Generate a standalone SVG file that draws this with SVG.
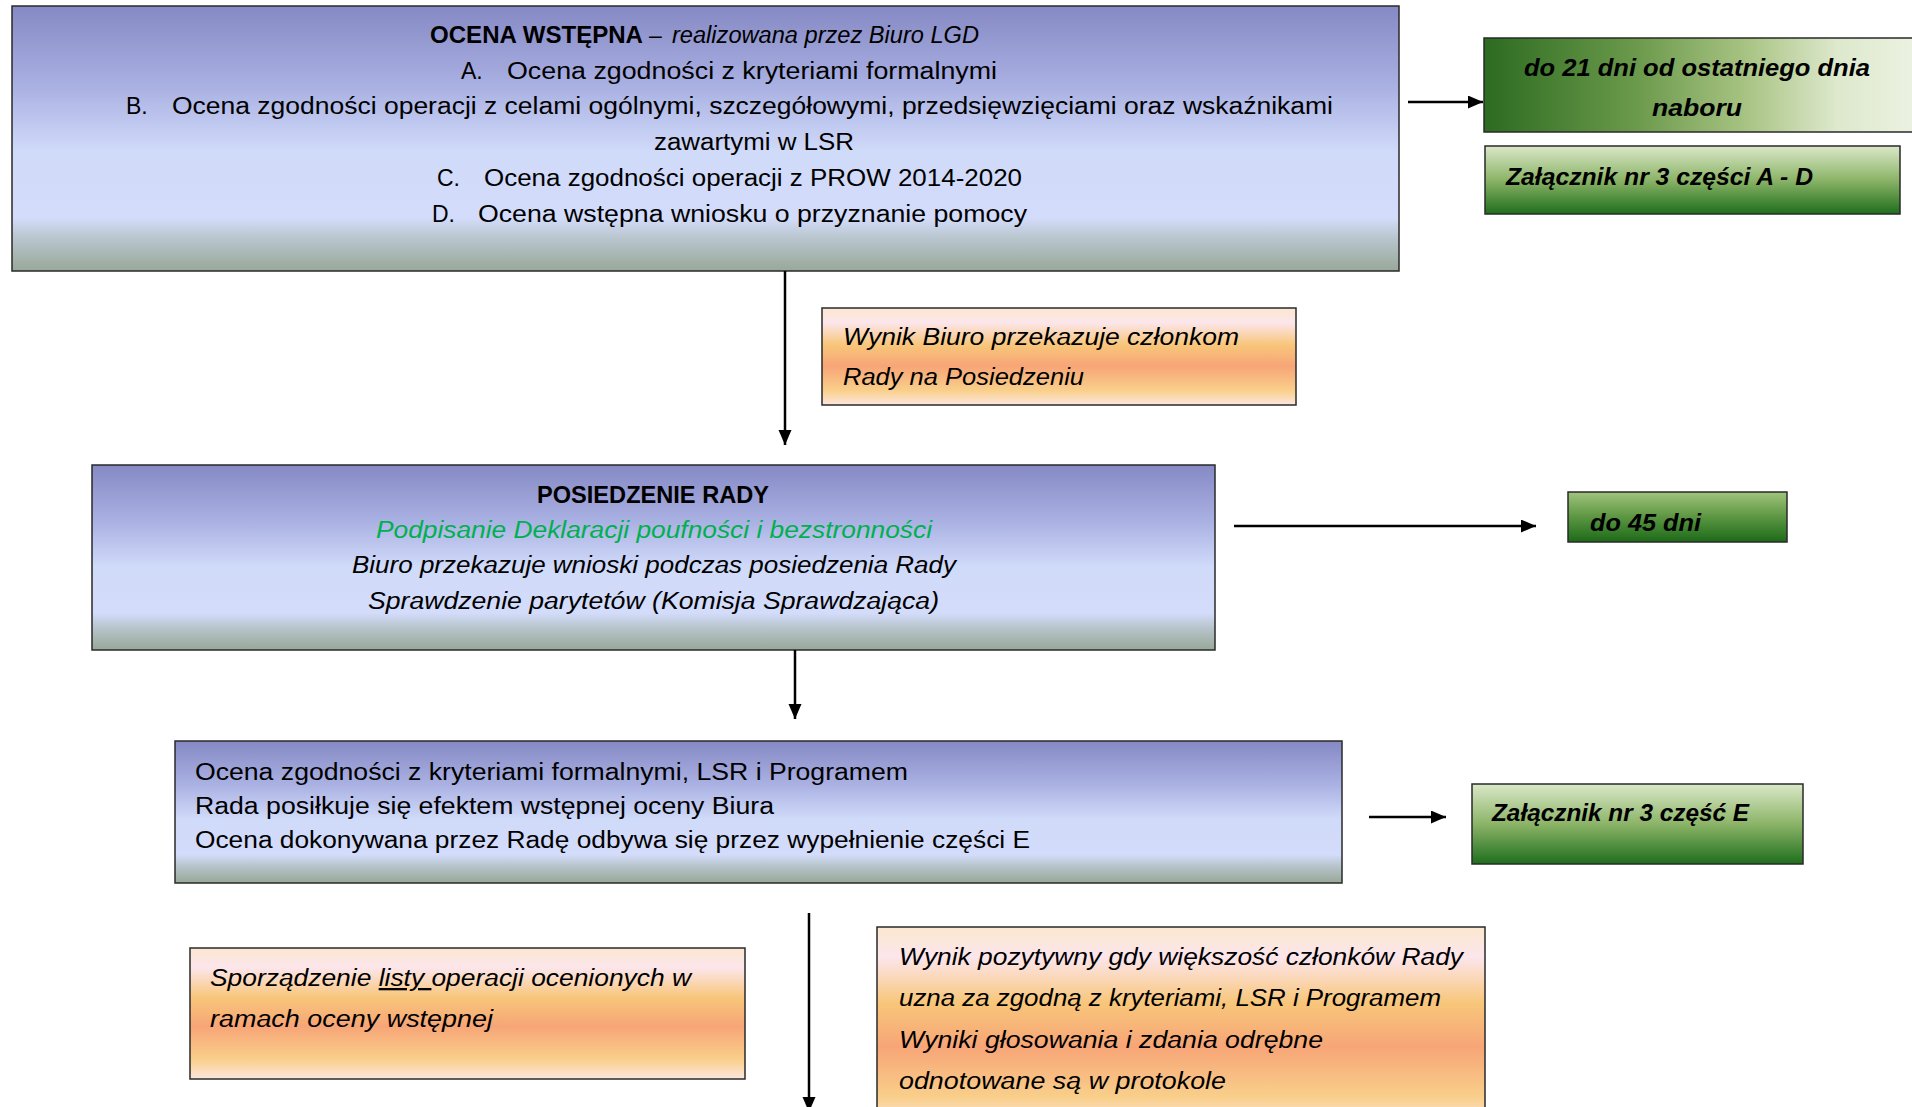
<svg xmlns="http://www.w3.org/2000/svg" width="1912" height="1107" viewBox="0 0 1912 1107">
<defs>
<linearGradient id="gBlue" x1="0" y1="0" x2="0" y2="1">
<stop offset="0" stop-color="#8689c4"/>
<stop offset="0.3" stop-color="#a9b0e2"/>
<stop offset="0.55" stop-color="#d0daf9"/>
<stop offset="0.8" stop-color="#d3dcfa"/>
<stop offset="0.88" stop-color="#b8c4cc"/>
<stop offset="1" stop-color="#98a898"/>
</linearGradient>
<linearGradient id="gOrange" x1="0" y1="0" x2="0" y2="1">
<stop offset="0" stop-color="#fbe7cf"/>
<stop offset="0.15" stop-color="#fce6ec"/>
<stop offset="0.38" stop-color="#f8c67a"/>
<stop offset="0.6" stop-color="#f7a577"/>
<stop offset="0.85" stop-color="#f9cf8a"/>
<stop offset="1" stop-color="#fce6df"/>
</linearGradient>
<linearGradient id="gGreenH" x1="0" y1="0" x2="1" y2="0">
<stop offset="0" stop-color="#2c6b20"/>
<stop offset="0.35" stop-color="#6c9a4c"/>
<stop offset="0.6" stop-color="#a9c484"/>
<stop offset="0.8" stop-color="#dde8cc"/>
<stop offset="1" stop-color="#eef3e4"/>
</linearGradient>
<linearGradient id="gGreenV" x1="0" y1="0" x2="0" y2="1">
<stop offset="0" stop-color="#dae8c8"/>
<stop offset="0.5" stop-color="#8cb468"/>
<stop offset="1" stop-color="#1e6e1c"/>
</linearGradient>
<linearGradient id="gGreenV2" x1="0" y1="0" x2="0" y2="1">
<stop offset="0" stop-color="#a0c47c"/>
<stop offset="0.5" stop-color="#5c9642"/>
<stop offset="1" stop-color="#1c6a18"/>
</linearGradient>
<marker id="ah" markerUnits="userSpaceOnUse" markerWidth="16" markerHeight="14" refX="15" refY="6.5" orient="auto">
<path d="M0,0 L15,6.5 L0,13 z" fill="#000"/>
</marker>
<style>
text{font-family:"Liberation Sans",Arial,sans-serif;fill:#000;font-size:23px}
.box{stroke:#2a2a2a;stroke-width:1.5}
.blue{fill:url(#gBlue)}
.orange{fill:url(#gOrange)}
.b{font-weight:bold}
.i{font-style:italic}
.bi{font-weight:bold;font-style:italic}
.green{fill:#00b050}
.conn{stroke:#000;stroke-width:2.5;fill:none;marker-end:url(#ah)}
</style>
</defs>

<g id="ocena-wstepna">
<rect class="box blue" x="12" y="6" width="1387" height="265"/>
<text x="430" y="43" class="b" textLength="213" lengthAdjust="spacingAndGlyphs">OCENA WSTĘPNA</text>
<text x="649" y="43">–</text>
<text x="672" y="43" class="i" font-size="21" textLength="307" lengthAdjust="spacingAndGlyphs">realizowana przez Biuro LGD</text>
<text x="461" y="79">A.</text>
<text x="507" y="79" textLength="490" lengthAdjust="spacingAndGlyphs">Ocena zgodności z kryteriami formalnymi</text>
<text x="126" y="114">B.</text>
<text x="172" y="114" textLength="1161" lengthAdjust="spacingAndGlyphs">Ocena zgodności operacji z celami ogólnymi, szczegółowymi, przedsięwzięciami oraz wskaźnikami</text>
<text x="654" y="150" textLength="200" lengthAdjust="spacingAndGlyphs">zawartymi w LSR</text>
<text x="437" y="186">C.</text>
<text x="484" y="186" textLength="538" lengthAdjust="spacingAndGlyphs">Ocena zgodności operacji z PROW 2014-2020</text>
<text x="432" y="222">D.</text>
<text x="478" y="222" textLength="549" lengthAdjust="spacingAndGlyphs">Ocena wstępna wniosku o przyznanie pomocy</text>
</g>

<g id="termin-21">
<rect class="box" x="1484" y="38" width="440" height="94" fill="url(#gGreenH)"/>
<text x="1697" y="76" class="bi" text-anchor="middle" textLength="346" lengthAdjust="spacingAndGlyphs">do 21 dni od ostatniego dnia</text>
<text x="1697" y="116" class="bi" text-anchor="middle" textLength="90" lengthAdjust="spacingAndGlyphs">naboru</text>
</g>

<g id="zalacznik-ad">
<rect class="box" x="1485" y="146" width="415" height="68" fill="url(#gGreenV)"/>
<text x="1506" y="185" class="bi" textLength="307" lengthAdjust="spacingAndGlyphs">Załącznik nr 3 części A - D</text>
</g>

<g id="wynik-biuro">
<rect class="box orange" x="822" y="308" width="474" height="97"/>
<text x="843" y="345" class="i" textLength="396" lengthAdjust="spacingAndGlyphs">Wynik Biuro przekazuje członkom</text>
<text x="843" y="385" class="i" textLength="241" lengthAdjust="spacingAndGlyphs">Rady na Posiedzeniu</text>
</g>

<g id="posiedzenie-rady">
<rect class="box blue" x="92" y="465" width="1123" height="185"/>
<text x="537" y="503" class="b" textLength="232" lengthAdjust="spacingAndGlyphs">POSIEDZENIE RADY</text>
<text x="376" y="538" class="i green" textLength="556" lengthAdjust="spacingAndGlyphs">Podpisanie Deklaracji poufności i bezstronności</text>
<text x="352" y="573" class="i" textLength="604" lengthAdjust="spacingAndGlyphs">Biuro przekazuje wnioski podczas posiedzenia Rady</text>
<text x="368" y="609" class="i" textLength="571" lengthAdjust="spacingAndGlyphs">Sprawdzenie parytetów (Komisja Sprawdzająca)</text>
</g>

<g id="termin-45">
<rect class="box" x="1568" y="492" width="219" height="50" fill="url(#gGreenV2)"/>
<text x="1590" y="531" class="bi" textLength="111" lengthAdjust="spacingAndGlyphs">do 45 dni</text>
</g>

<g id="ocena-rady">
<rect class="box blue" x="175" y="741" width="1167" height="142"/>
<text x="195" y="780" textLength="713" lengthAdjust="spacingAndGlyphs">Ocena zgodności z kryteriami  formalnymi, LSR i Programem</text>
<text x="195" y="814" textLength="579" lengthAdjust="spacingAndGlyphs">Rada posiłkuje się efektem wstępnej oceny Biura</text>
<text x="195" y="848" textLength="835" lengthAdjust="spacingAndGlyphs">Ocena dokonywana przez Radę odbywa się przez wypełnienie części  E</text>
</g>

<g id="zalacznik-e">
<rect class="box" x="1472" y="784" width="331" height="80" fill="url(#gGreenV)"/>
<text x="1492" y="821" class="bi" textLength="257" lengthAdjust="spacingAndGlyphs">Załącznik nr 3 część E</text>
</g>

<g id="sporzadzenie-listy">
<rect class="box orange" x="190" y="948" width="555" height="131"/>
<text x="210" y="986" class="i" textLength="481" lengthAdjust="spacingAndGlyphs">Sporządzenie <tspan text-decoration="underline">listy </tspan>operacji ocenionych w</text>
<text x="210" y="1027" class="i" textLength="283" lengthAdjust="spacingAndGlyphs">ramach oceny wstępnej</text>
</g>

<g id="wynik-pozytywny">
<rect class="box orange" x="877" y="927" width="608" height="200"/>
<text x="899" y="965" class="i" textLength="564" lengthAdjust="spacingAndGlyphs">Wynik pozytywny gdy większość członków Rady</text>
<text x="899" y="1006" class="i" textLength="542" lengthAdjust="spacingAndGlyphs">uzna za zgodną z kryteriami, LSR i Programem</text>
<text x="899" y="1048" class="i" textLength="424" lengthAdjust="spacingAndGlyphs">Wyniki głosowania i zdania odrębne</text>
<text x="899" y="1089" class="i" textLength="327" lengthAdjust="spacingAndGlyphs">odnotowane są w protokole</text>
</g>

<g id="connectors">
<line class="conn" x1="1408" y1="102" x2="1483" y2="102"/>
<line class="conn" x1="785" y1="271" x2="785" y2="445"/>
<line class="conn" x1="1234" y1="526" x2="1536" y2="526"/>
<line class="conn" x1="795" y1="650" x2="795" y2="719"/>
<line class="conn" x1="1369" y1="817" x2="1446" y2="817"/>
<line class="conn" x1="809" y1="913" x2="809" y2="1112"/>
</g>
</svg>
